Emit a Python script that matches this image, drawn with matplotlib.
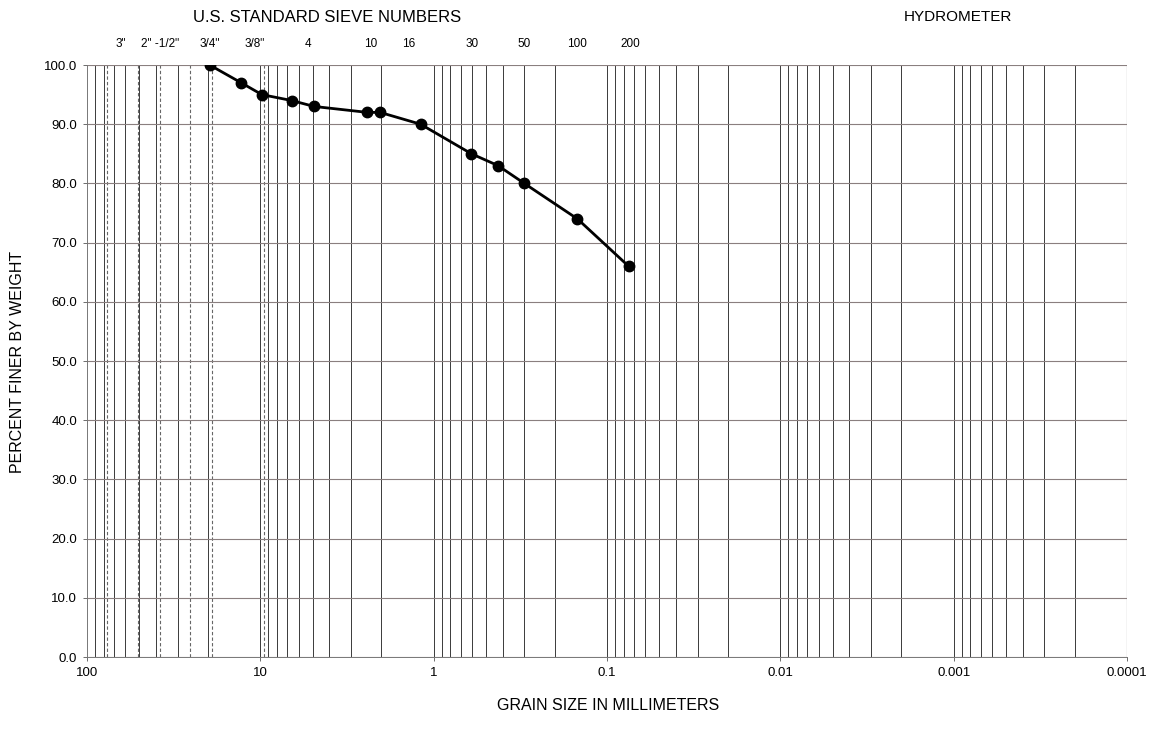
import numpy as np
import matplotlib
matplotlib.use("Agg")
import matplotlib.pyplot as plt

# dados da curva granulometrica
diametro_mm = [19.6, 12.9, 9.8, 6.6, 4.9, 2.42, 2.04, 1.19, 0.605, 0.425, 0.3, 0.148, 0.075]
passante = [100.0, 97.0, 95.0, 94.0, 93.0, 92.0, 92.0, 90.0, 85.0, 83.0, 80.0, 74.0, 66.0]

# rotulos das peneiras (topo) e onde ficam
peneiras_txt = ['3"', '2" -1/2"', '3/4"', '3/8"', '4', '10', '16', '30', '50', '100', '200']
peneiras_pos = [64.0, 38.0, 19.5, 10.8, 5.3, 2.3, 1.4, 0.6, 0.3, 0.149, 0.073]

# peneiras em polegadas (linhas tracejadas)
peneiras_pol_mm = [76.2, 50.8, 38.1, 25.4, 19.05, 9.5]

y_ticks = np.arange(0, 101, 10)
x_ticks = [100, 10, 1, 0.1, 0.01, 0.001, 0.0001]
x_tick_txt = ["100", "10", "1", "0.1", "0.01", "0.001", "0.0001"]

plt.rcParams["font.family"] = ["Liberation Sans", "DejaVu Sans"]

fig = plt.figure(figsize=(11.54, 7.44), dpi=100)
ax = fig.add_axes([87 / 1154, 1 - 657 / 744, (1127 - 87) / 1154, (657 - 65) / 744])

ax.set_xscale("log")
ax.set_xlim(100, 0.0001)
ax.set_ylim(0, 100)

# linhas verticais de grade (log: 1..9 por decada)
for dec in range(-4, 2):
    for k in range(1, 10):
        v = k * 10.0 ** dec
        if 0.0001 <= v <= 100:
            ax.axvline(v, color="#3a3a3a", lw=0.7, zorder=1)
ax.axvline(0.0001, color="#3a3a3a", lw=0.8, zorder=1)

for v in peneiras_pol_mm:
    ax.axvline(v, color="#666666", lw=0.8, ls=(0, (3, 2)), zorder=1)

# linhas horizontais
for v in y_ticks:
    ax.axhline(v, color="#8a7f7f", lw=0.8, zorder=1)

ax.plot(diametro_mm, passante, color="black", lw=2, marker="o",
        markersize=7.5, zorder=3)

ax.set_yticks(y_ticks)
ax.set_yticklabels([f"{v:.1f}" for v in y_ticks], fontsize=9.5)
ax.set_xticks(x_ticks)
ax.set_xticklabels(x_tick_txt, fontsize=9.5)
ax.xaxis.set_minor_locator(matplotlib.ticker.NullLocator())
ax.tick_params(axis="both", length=3, width=0.6, color="#555555", pad=4)

for s in ["top", "right"]:
    ax.spines[s].set_visible(False)
for s in ["left", "bottom"]:
    ax.spines[s].set_color("#777777")
    ax.spines[s].set_linewidth(0.7)

# textos do topo
for txt, pos in zip(peneiras_txt, peneiras_pos):
    ax.text(pos, 1.035, txt, transform=ax.get_xaxis_transform(),
            ha="center", va="center", fontsize=8.5)

fig.text(327 / 1154, 1 - 17 / 744, "U.S. STANDARD SIEVE NUMBERS",
         ha="center", va="center", fontsize=12)
fig.text(958 / 1154, 1 - 17 / 744, "HYDROMETER",
         ha="center", va="center", fontsize=11)

fig.text(608 / 1154, 1 - 705 / 744, "GRAIN SIZE IN MILLIMETERS",
         ha="center", va="center", fontsize=11.5)
fig.text(18 / 1154, 1 - 362 / 744, "PERCENT FINER BY WEIGHT",
         ha="center", va="center", rotation=90, fontsize=11.5)

fig.savefig("out.png", dpi=100)
